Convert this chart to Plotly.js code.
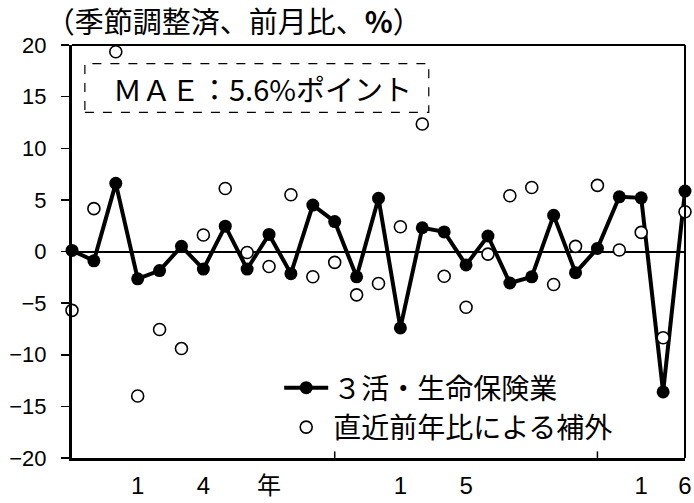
<!DOCTYPE html>
<html>
<head>
<meta charset="utf-8">
<script src="https://cdn.plot.ly/plotly-3.0.1.min.js"></script>
<style>html,body{margin:0;padding:0;background:#fff;}#chart{width:694px;height:503px;}</style>
</head>
<body>
<div id="chart"></div>
<script>
// Months: 2014/1 ... 2016/5 (29 monthly points)
const monthIndex = [0,1,2,3,4,5,6,7,8,9,10,11,12,13,14,15,16,17,18,19,20,21,22,23,24,25,26,27,28];
const seriesActual = [0.1,-0.9,6.6,-2.65,-1.85,0.5,-1.7,2.45,-1.7,1.65,-2.15,4.5,2.9,-2.45,5.15,-7.4,2.3,1.9,-1.3,1.5,-3.05,-2.45,3.5,-2.05,0.3,5.3,5.2,-13.6,5.85];
const seriesExtrap = [-5.7,4.15,19.35,-14.0,-7.55,-9.4,1.6,6.1,-0.1,-1.45,5.5,-2.45,-1.05,-4.2,-3.1,2.4,12.35,-2.4,-5.4,-0.25,5.4,6.2,-3.2,0.5,6.4,0.15,1.85,-8.35,3.85];
const seriesNames = ["３活・生命保険業", "直近前年比による補外"];
const xTickPos = [3,6,9,15,18,26,28];
const xTickText = ["1","4","年","1","5","1","6"];
const yearBoundaries = [12,24];
const yTicks = [-20,-15,-10,-5,0,5,10,15,20];
const titleText = "（季節調整済、前月比、<b>%</b>）";
const maeText = "ＭＡＥ：5.6%ポイント";

const narrowFont = "Liberation Sans Narrow, Arial Narrow, Liberation Sans, Noto Sans CJK JP, sans-serif";
const numFont = "Liberation Sans, Arial, Noto Sans CJK JP, sans-serif";
const cjkFont = "Noto Sans CJK JP, sans-serif";

const traces = [
  {
    x: monthIndex, y: seriesActual, name: seriesNames[0], type: "scatter", mode: "lines+markers",
    line: {color: "#000", width: 4},
    marker: {color: "#000", size: 13, symbol: "circle"},
    cliponaxis: false, legendgroup: "a"
  },
  {
    x: monthIndex, y: seriesExtrap, name: seriesNames[1], type: "scatter", mode: "markers",
    marker: {color: "#fff", size: 12, symbol: "circle", line: {color: "#000", width: 1.6}},
    cliponaxis: false, legendgroup: "b"
  }
];

const shapes = [
  {type: "line", xref: "paper", yref: "paper", x0: 0, x1: 1, y0: 1, y1: 1, line: {color: "#000", width: 2}},
  {type: "line", xref: "paper", yref: "paper", x0: 1, x1: 1, y0: 0, y1: 1, line: {color: "#000", width: 2}},
  {type: "rect", xref: "paper", yref: "paper", x0: 0.021, x1: 0.582, y0: 0.837, y1: 0.955, line: {color: "#000", width: 1.2, dash: "dash"}, fillcolor: "rgba(0,0,0,0)"}
];
yearBoundaries.forEach(b => shapes.push({type: "line", xref: "x", yref: "paper", x0: b, x1: b, y0: 0, y1: 0.016, line: {color: "#000", width: 1.5}}));

const layout = {
  width: 694, height: 503,
  margin: {l: 72, r: 9, t: 45, b: 45},
  paper_bgcolor: "#fff", plot_bgcolor: "#fff",
  title: {text: titleText, font: {family: cjkFont, size: 29, color: "#000"}, xref: "container", yref: "container", x: 0.066, xanchor: "left", y: 0.955, yanchor: "middle"},
  xaxis: {
    range: [0, 28], showgrid: false, zeroline: false,
    showline: true, linecolor: "#000", linewidth: 3,
    tickmode: "array", tickvals: xTickPos, ticktext: xTickText, ticks: "",
    ticklabelstandoff: 4,
    tickfont: {family: narrowFont, size: 24, color: "#000"}
  },
  yaxis: {
    range: [-20, 20], showgrid: false,
    zeroline: true, zerolinecolor: "#000", zerolinewidth: 2,
    showline: true, linecolor: "#000", linewidth: 3,
    tickmode: "array", tickvals: yTicks, ticks: "outside", ticklen: 8, tickwidth: 1.5, tickcolor: "#000",
    ticklabelstandoff: 10,
    tickfont: {family: numFont, size: 22, color: "#000"}
  },
  showlegend: true,
  legend: {
    x: 0.338, y: 0.23, xanchor: "left", yanchor: "top",
    bgcolor: "rgba(0,0,0,0)", borderwidth: 0,
    font: {family: cjkFont, size: 28, color: "#000"},
    traceorder: "grouped", tracegroupgap: 0, itemwidth: 44
  },
  shapes: shapes,
  annotations: [
    {text: maeText, xref: "paper", yref: "paper", x: 0.31, y: 0.896, xanchor: "center", yanchor: "middle", showarrow: false,
     font: {family: cjkFont, size: 29, color: "#000"}}
  ]
};

Plotly.newPlot("chart", traces, layout, {staticPlot: true, displayModeBar: false});
</script>
</body>
</html>
